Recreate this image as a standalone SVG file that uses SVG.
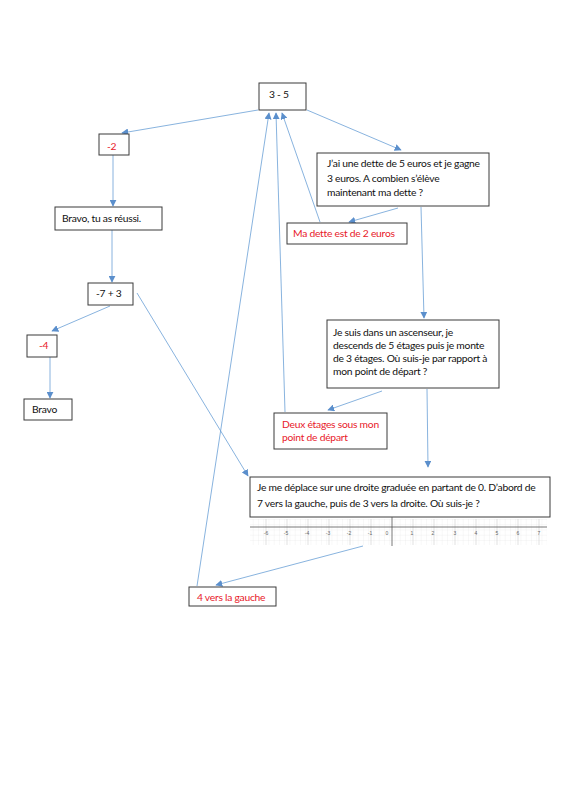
<svg xmlns="http://www.w3.org/2000/svg" width="566" height="800" viewBox="0 0 566 800">
<style>
.box{fill:#fff;stroke:#3a3a3a;stroke-width:1}
.t{font-family:Lato,"Liberation Sans",sans-serif;font-size:10.3px;letter-spacing:-0.25px;fill:#111}
.r{fill:#e8202a}
.c{stroke:#6a9fd6;stroke-width:0.8;fill:none;marker-end:url(#ah)}
.g{stroke:#e2e2e2;stroke-width:0.5}
.gm{stroke:#cfcfcf;stroke-width:0.6}
.n{font-family:"Liberation Sans",sans-serif;font-size:5px;fill:#666;text-anchor:middle}
</style>
<defs>
<marker id="ah" markerUnits="userSpaceOnUse" markerWidth="7" markerHeight="7" viewBox="0 0 10 10" refX="9" refY="5" orient="auto">
<path d="M0,0 L10,5 L0,10 z" fill="#5b8fcc"/>
</marker>
<pattern id="grid" patternUnits="userSpaceOnUse" x="0.75" y="519" width="5.25" height="5.25">
<path d="M0,0 V5.25 M0,0 H5.25" class="g"/>
</pattern>
</defs>
<rect width="566" height="800" fill="#fff"/>

<g id="connectors">
<line class="c" x1="258" y1="110" x2="122" y2="133"/>
<line class="c" x1="113" y1="155" x2="113" y2="206"/>
<line class="c" x1="112" y1="230" x2="112" y2="282"/>
<line class="c" x1="110" y1="306" x2="52" y2="331"/>
<line class="c" x1="50" y1="357" x2="50" y2="398"/>
<line class="c" x1="137" y1="293" x2="248" y2="476"/>
<line class="c" x1="307" y1="110" x2="401" y2="150"/>
<line class="c" x1="398" y1="208" x2="349" y2="222"/>
<line class="c" x1="320" y1="222" x2="282" y2="113"/>
<line class="c" x1="285" y1="412" x2="276" y2="113"/>
<line class="c" x1="197" y1="586" x2="269" y2="113"/>
<line class="c" x1="421" y1="207" x2="424" y2="318"/>
<line class="c" x1="382" y1="391" x2="328" y2="410"/>
<line class="c" x1="427" y1="389" x2="428" y2="467"/>
<line class="c" x1="363" y1="546" x2="216" y2="585"/>
</g>

<g id="n35"><rect class="box" x="259" y="83" width="47" height="27"/><text class="t" x="269" y="98">3 - 5</text></g>
<g id="nm2"><rect class="box" x="99" y="134" width="30" height="21"/><text class="t r" x="107" y="150">-2</text></g>
<g id="nbravo1"><rect class="box" x="55" y="207" width="107" height="23"/><text class="t" x="62" y="222">Bravo, tu as réussi.</text></g>
<g id="nm73"><rect class="box" x="88" y="283" width="45" height="22"/><text class="t" x="96" y="297">-7 + 3</text></g>
<g id="nm4"><rect class="box" x="27" y="335" width="30" height="22"/><text class="t r" x="39" y="349">-4</text></g>
<g id="nbravo2"><rect class="box" x="24" y="399" width="48" height="21"/><text class="t" x="32" y="413">Bravo</text></g>

<g id="ndette"><rect class="box" x="317" y="153" width="172" height="53"/>
<text class="t" x="327" y="167">J’ai une dette de 5 euros et je gagne</text>
<text class="t" x="327" y="181.5">3 euros. A combien s’élève</text>
<text class="t" x="327" y="196">maintenant ma dette ?</text></g>
<g id="nrep1"><rect class="box" x="287" y="223" width="120" height="21"/><text class="t r" x="293" y="237">Ma dette est de 2 euros</text></g>

<g id="nasc"><rect class="box" x="327" y="320" width="172" height="68"/>
<text class="t" x="333" y="336">Je suis dans un ascenseur, je</text>
<text class="t" x="333" y="349">descends de 5 étages puis je monte</text>
<text class="t" x="333" y="362">de 3 étages. Où suis-je par rapport à</text>
<text class="t" x="333" y="375">mon point de départ ?</text></g>
<g id="nrep2"><rect class="box" x="274" y="413" width="113" height="36"/>
<text class="t r" x="282" y="428">Deux étages sous mon</text>
<text class="t r" x="282" y="441">point de départ</text></g>

<g id="ndroite"><rect class="box" x="250" y="477" width="300" height="40"/>
<text class="t" x="257" y="491">Je me déplace sur une droite graduée en partant de 0. D’abord de</text>
<text class="t" x="257" y="507">7 vers la gauche, puis de 3 vers la droite. Où suis-je ?</text></g>

<g id="numberline">
<rect x="250" y="519" width="297" height="26" fill="url(#grid)"/>
<g class="gm">
<line x1="266" y1="519" x2="266" y2="545"/><line x1="287" y1="519" x2="287" y2="545"/>
<line x1="308" y1="519" x2="308" y2="545"/><line x1="329" y1="519" x2="329" y2="545"/>
<line x1="350" y1="519" x2="350" y2="545"/><line x1="371" y1="519" x2="371" y2="545"/>
<line x1="413" y1="519" x2="413" y2="545"/><line x1="434" y1="519" x2="434" y2="545"/>
<line x1="455" y1="519" x2="455" y2="545"/><line x1="476" y1="519" x2="476" y2="545"/>
<line x1="497" y1="519" x2="497" y2="545"/><line x1="518" y1="519" x2="518" y2="545"/>
<line x1="539" y1="519" x2="539" y2="545"/>
</g>
<line x1="250" y1="527" x2="547" y2="527" stroke="#555" stroke-width="0.8"/>
<line x1="392" y1="517" x2="392" y2="546" stroke="#555" stroke-width="0.8"/>
<text class="n" x="266" y="535">-6</text><text class="n" x="286" y="535">-5</text>
<text class="n" x="307" y="535">-4</text><text class="n" x="328" y="535">-3</text>
<text class="n" x="349" y="535">-2</text><text class="n" x="370" y="535">-1</text>
<text class="n" x="387" y="535">0</text>
<text class="n" x="412" y="535">1</text><text class="n" x="433" y="535">2</text>
<text class="n" x="455" y="535">3</text><text class="n" x="476" y="535">4</text>
<text class="n" x="497" y="535">5</text><text class="n" x="518" y="535">6</text>
<text class="n" x="539" y="535">7</text>
</g>

<g id="nrep3"><rect class="box" x="189" y="587" width="87" height="19"/><text class="t r" x="197" y="601">4 vers la gauche</text></g>
</svg>
